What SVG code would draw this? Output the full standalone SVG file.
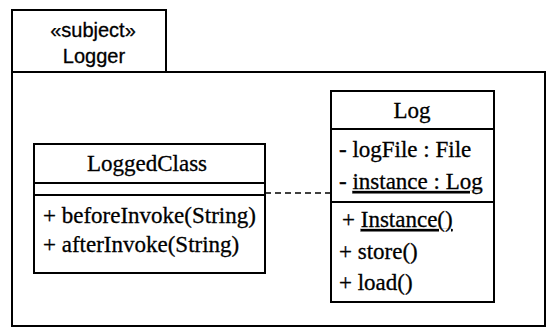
<svg xmlns="http://www.w3.org/2000/svg" width="548" height="327" viewBox="0 0 548 327">
<style>
.box{fill:#fff;stroke:#000;stroke-width:2}
.pkg{fill:#fff;stroke:#000;stroke-width:2}
.s{font-family:"Liberation Sans",Arial,sans-serif;font-size:20px;fill:#000;stroke:#000;stroke-width:0.3}
.t{font-family:"Liberation Serif","Times New Roman",serif;font-size:23px;fill:#000;stroke:#000;stroke-width:0.3}
.u{text-decoration:underline}
.conn{stroke:#000;stroke-width:1.3;stroke-dasharray:6,4;fill:none}
</style>
<g id="package-Logger">
<rect class="pkg" x="12" y="10" width="154" height="62"/>
<rect class="pkg" x="12" y="72" width="533" height="254"/>
<text class="s" x="93" y="37" text-anchor="middle">«subject»</text>
<text class="s" x="94" y="63" text-anchor="middle">Logger</text>
</g>
<g id="connectors">
<line class="conn" x1="265" y1="193" x2="331" y2="193"/>
</g>
<g id="LoggedClass">
<rect class="box" x="34" y="144" width="231" height="129"/>
<line stroke="#000" stroke-width="2" x1="34" y1="183" x2="265" y2="183"/>
<line stroke="#000" stroke-width="2" x1="34" y1="195" x2="265" y2="195"/>
<text class="t" x="147" y="171" text-anchor="middle">LoggedClass</text>
<text class="t" x="43" y="223">+ beforeInvoke(String)</text>
<text class="t" x="43" y="252">+ afterInvoke(String)</text>
</g>
<g id="Log">
<rect class="box" x="331" y="91" width="163" height="211"/>
<line stroke="#000" stroke-width="2" x1="331" y1="129" x2="494" y2="129"/>
<line stroke="#000" stroke-width="2" x1="331" y1="202" x2="494" y2="202"/>
<text class="t" x="412" y="118" text-anchor="middle">Log</text>
<text class="t" x="339" y="157">- logFile : File</text>
<text class="t" x="339" y="189"><tspan>- </tspan><tspan class="u">instance : Log</tspan></text>
<text class="t" x="342" y="227"><tspan>+ </tspan><tspan class="u">Instance()</tspan></text>
<text class="t" x="339" y="259">+ store()</text>
<text class="t" x="339" y="290">+ load()</text>
</g>
</svg>
